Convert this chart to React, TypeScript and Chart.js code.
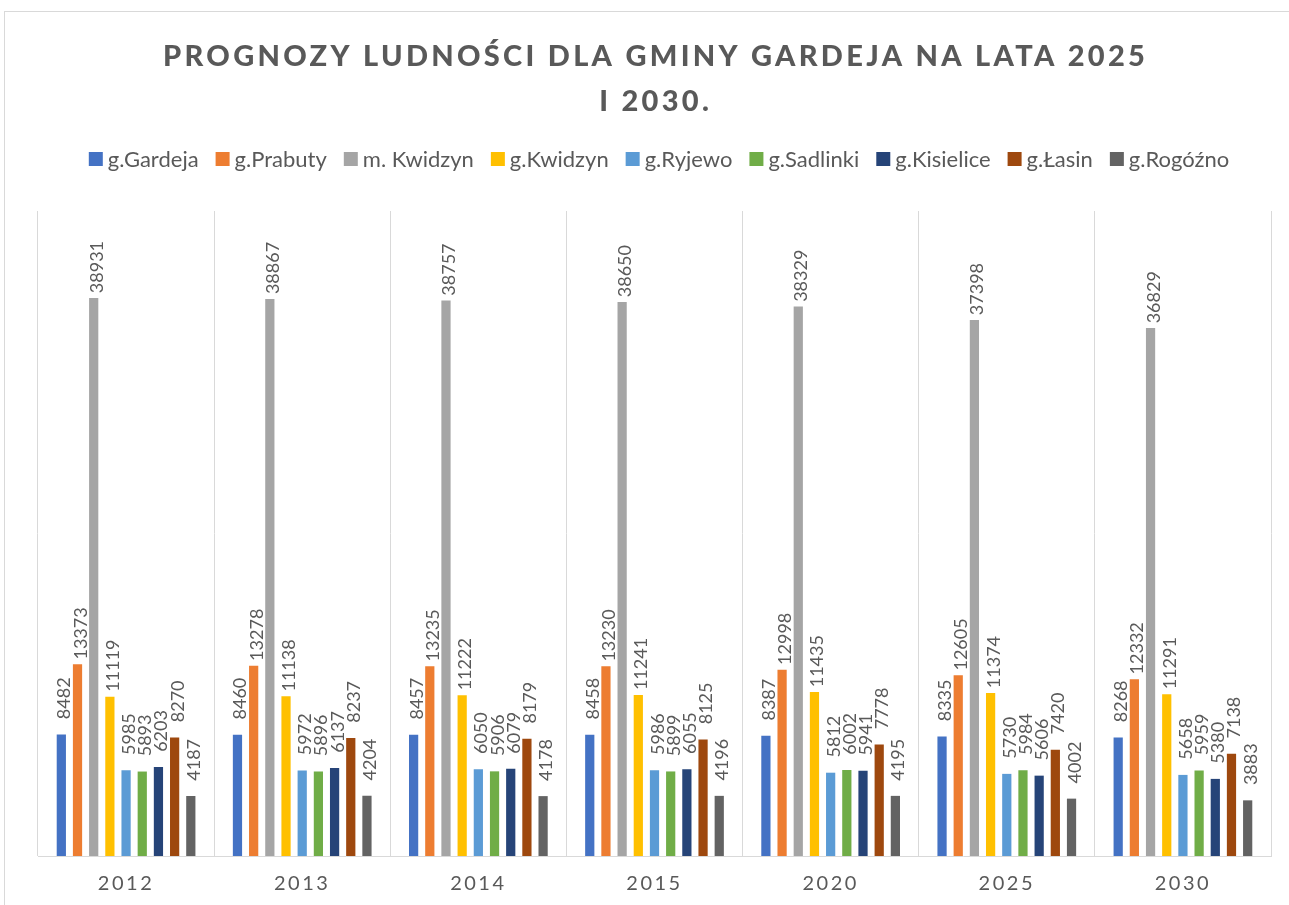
import React, { useEffect, useRef } from "react";
import { Chart, registerables } from "chart.js";

Chart.register(...registerables);

const TITLE_LINES = ["PROGNOZY LUDNOŚCI DLA GMINY GARDEJA NA LATA 2025", "I 2030."];
const YEARS = ["2012", "2013", "2014", "2015", "2020", "2025", "2030"];
const SERIES_NAMES = [
  "g.Gardeja",
  "g.Prabuty",
  "m. Kwidzyn",
  "g.Kwidzyn",
  "g.Ryjewo",
  "g.Sadlinki",
  "g.Kisielice",
  "g.Łasin",
  "g.Rogóźno",
];
const G_GARDEJA = [8482, 8460, 8457, 8458, 8387, 8335, 8268];
const G_PRABUTY = [13373, 13278, 13235, 13230, 12998, 12605, 12332];
const M_KWIDZYN = [38931, 38867, 38757, 38650, 38329, 37398, 36829];
const G_KWIDZYN = [11119, 11138, 11222, 11241, 11435, 11374, 11291];
const G_RYJEWO = [5985, 5972, 6050, 5986, 5812, 5730, 5658];
const G_SADLINKI = [5893, 5896, 5906, 5899, 6002, 5984, 5959];
const G_KISIELICE = [6203, 6137, 6079, 6055, 5941, 5606, 5380];
const G_LASIN = [8270, 8237, 8179, 8125, 7778, 7420, 7138];
const G_ROGOZNO = [4187, 4204, 4178, 4196, 4195, 4002, 3883];
const SERIES_VALUES = [
  G_GARDEJA,
  G_PRABUTY,
  M_KWIDZYN,
  G_KWIDZYN,
  G_RYJEWO,
  G_SADLINKI,
  G_KISIELICE,
  G_LASIN,
  G_ROGOZNO,
];
const COLORS = [
  "#4472C4",
  "#ED7D31",
  "#A5A5A5",
  "#FFC000",
  "#5B9BD5",
  "#70AD47",
  "#264478",
  "#9E480E",
  "#636363",
];
const Y_MAX = 45000;

const TEXT_COLOR = "#595959";
const GRID_COLOR = "#d9d9d9";
const FONT = "Lato";

const decorPlugin = {
  id: "decor",
  beforeDraw(chart: any) {
    const ctx = chart.ctx;
    ctx.save();
    ctx.strokeStyle = GRID_COLOR;
    ctx.lineWidth = 1;
    ctx.strokeRect(4.5, 11.5, 1400, 1000);
    ctx.restore();
    ctx.letterSpacing = "2.5px";
  },
  afterDatasetsDraw(chart: any) {
    const ctx = chart.ctx;
    ctx.letterSpacing = "0px";
    // data labels
    chart.data.datasets.forEach((ds: any, di: number) => {
      const meta = chart.getDatasetMeta(di);
      meta.data.forEach((bar: any, i: number) => {
        const p = bar.getProps(["x", "y"], true);
        ctx.save();
        ctx.translate(p.x + 9, p.y - 57);
        ctx.rotate(-Math.PI / 2);
        ctx.font = `18px ${FONT}`;
        ctx.fillStyle = TEXT_COLOR;
        ctx.textAlign = "right";
        ctx.textBaseline = "alphabetic";
        ctx.fillText(String(ds.data[i]), 0, 0);
        ctx.restore();
      });
    });

    // title
    ctx.save();
    ctx.font = `900 29px ${FONT}`;
    ctx.fillStyle = TEXT_COLOR;
    ctx.textBaseline = "alphabetic";
    ctx.textAlign = "left";
    const ls = 3.3;
    ctx.letterSpacing = `${ls}px`;
    const baselines = [66, 111];
    TITLE_LINES.forEach((line, li) => {
      const w = ctx.measureText(line).width - ls;
      ctx.fillText(line, 654 - w / 2, baselines[li]);
    });
    ctx.restore();
    ctx.letterSpacing = "0px";

    // legend
    ctx.save();
    ctx.font = `22px ${FONT}`;
    ctx.textAlign = "left";
    ctx.textBaseline = "alphabetic";
    const items = chart.data.datasets.map((ds: any) => ({
      label: ds.label,
      color: ds.backgroundColor,
      w: ctx.measureText(ds.label).width,
    }));
    const box = 14;
    const gapText = 5;
    const gapItem = 17;
    const total =
      items.reduce((a: number, it: any) => a + box + gapText + it.w, 0) +
      gapItem * (items.length - 1);
    let x = 659 - total / 2;
    items.forEach((it: any) => {
      ctx.fillStyle = it.color;
      ctx.fillRect(x, 152, box, box);
      ctx.fillStyle = TEXT_COLOR;
      ctx.fillText(it.label, x + box + gapText, 167);
      x += box + gapText + it.w + gapItem;
    });
    ctx.restore();
  },
  afterDraw(chart: any) {
    chart.ctx.letterSpacing = "0px";
  },
};

export default function App() {
  const ref = useRef<HTMLCanvasElement | null>(null);
  useEffect(() => {
    if (!ref.current) return;
    const chart = new Chart(ref.current, {
      type: "bar",
      data: {
        labels: YEARS,
        datasets: SERIES_NAMES.map((name, i) => ({
          label: name,
          data: SERIES_VALUES[i],
          backgroundColor: COLORS[i],
          borderWidth: 0,
          categoryPercentage: 0.827,
          barPercentage: 0.57,
        })),
      },
      options: {
        responsive: false,
        maintainAspectRatio: false,
        devicePixelRatio: 1,
        animation: false,
        layout: { padding: { top: 211, left: 38, right: 18, bottom: 0 } },
        plugins: {
          legend: { display: false },
          title: { display: false },
          tooltip: { enabled: false },
        },
        scales: {
          x: {
            grid: { color: GRID_COLOR, drawTicks: false, offset: true },
            border: { color: GRID_COLOR },
            ticks: {
              color: TEXT_COLOR,
              font: { family: FONT, size: 20 },
              padding: 16,
            },
            afterFit: (s: any) => {
              s.height = 49;
            },
          },
          y: { display: false, min: 0, max: Y_MAX },
        },
      },
      plugins: [decorPlugin],
    });
    return () => chart.destroy();
  }, []);
  return (
    <div style={{ position: "absolute", left: 0, top: 0, width: 1289, height: 905, background: "#fff" }}>
      <canvas ref={ref} width={1289} height={905} style={{ display: "block", width: 1289, height: 905 }} />
    </div>
  );
}
